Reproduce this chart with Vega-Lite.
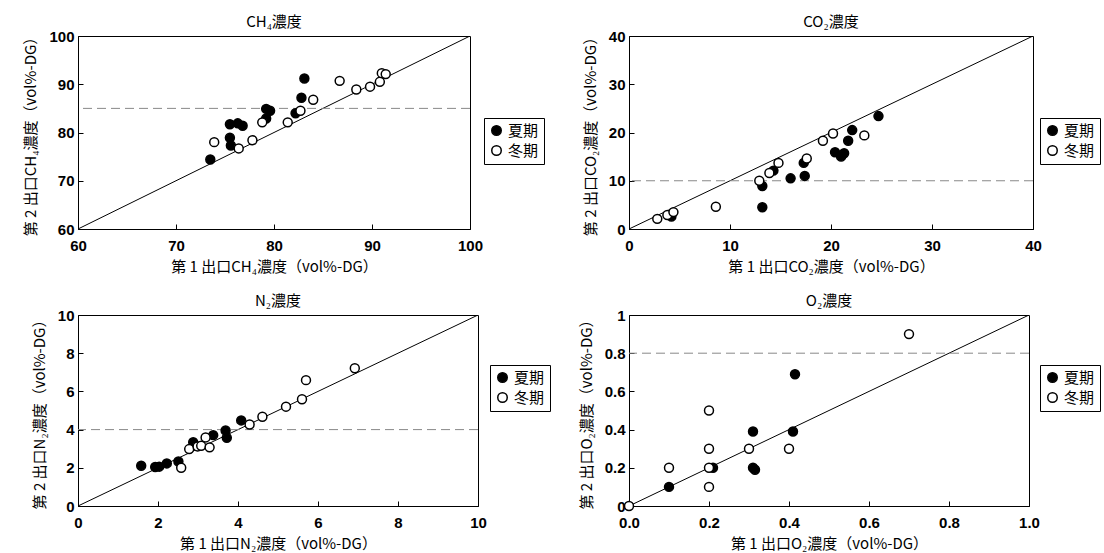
{
  "$schema": "https://vega.github.io/schema/vega-lite/v6.json",
  "background": "white",
  "padding": {"left": 23, "top": 14, "right": 2, "bottom": 0},
  "config": {
    "font": "Liberation Sans, Noto Sans CJK JP",
    "view": {"stroke": "black", "strokeWidth": 1},
    "axis": {
      "grid": false, "domainColor": "black", "tickColor": "black", "tickSize": -5, "tickCount": 11,
      "labelFont": "Liberation Sans", "labelFontSize": 15, "labelFontWeight": "bold", "labelColor": "black",
      "labelOverlap": false, "labelFlush": false,
      "titleFont": "Noto Sans CJK JP", "titleFontSize": 15, "titleFontWeight": "normal", "titleColor": "black"
    },
    "axisX": {"labelPadding": 14, "titlePadding": 6},
    "axisY": {"labelPadding": 9, "titlePadding": 10},
    "title": {"font": "Noto Sans CJK JP", "fontSize": 15, "fontWeight": "normal", "offset": 5, "dy": 6, "color": "black"},
    "legend": {
      "orient": "none", "strokeColor": "black", "padding": 5, "symbolType": "circle", "symbolSize": 90,
      "symbolStrokeColor": "black", "symbolStrokeWidth": 1.5, "labelFont": "Noto Sans CJK JP", "labelFontSize": 15,
      "labelColor": "black", "rowPadding": 3, "title": null
    }
  },
  "datasets": {
    "pts": [
      {"p": "CH4", "s": "夏期", "x": 73.5, "y": 74.4},
      {"p": "CH4", "s": "夏期", "x": 75.5, "y": 81.7},
      {"p": "CH4", "s": "夏期", "x": 76.3, "y": 81.9},
      {"p": "CH4", "s": "夏期", "x": 76.8, "y": 81.4},
      {"p": "CH4", "s": "夏期", "x": 75.5, "y": 78.9},
      {"p": "CH4", "s": "夏期", "x": 75.6, "y": 77.3},
      {"p": "CH4", "s": "夏期", "x": 79.2, "y": 84.9},
      {"p": "CH4", "s": "夏期", "x": 79.6, "y": 84.5},
      {"p": "CH4", "s": "夏期", "x": 79.2, "y": 82.9},
      {"p": "CH4", "s": "夏期", "x": 82.2, "y": 84.0},
      {"p": "CH4", "s": "夏期", "x": 82.8, "y": 87.2},
      {"p": "CH4", "s": "夏期", "x": 83.1, "y": 91.2},
      {"p": "CH4", "s": "冬期", "x": 73.9, "y": 78.0},
      {"p": "CH4", "s": "冬期", "x": 76.4, "y": 76.7},
      {"p": "CH4", "s": "冬期", "x": 77.8, "y": 78.4},
      {"p": "CH4", "s": "冬期", "x": 78.8, "y": 82.1},
      {"p": "CH4", "s": "冬期", "x": 81.4, "y": 82.1},
      {"p": "CH4", "s": "冬期", "x": 82.7, "y": 84.5},
      {"p": "CH4", "s": "冬期", "x": 84.0, "y": 86.8},
      {"p": "CH4", "s": "冬期", "x": 86.7, "y": 90.7},
      {"p": "CH4", "s": "冬期", "x": 88.4, "y": 88.9},
      {"p": "CH4", "s": "冬期", "x": 89.8, "y": 89.5},
      {"p": "CH4", "s": "冬期", "x": 90.8, "y": 90.5},
      {"p": "CH4", "s": "冬期", "x": 91.0, "y": 92.3},
      {"p": "CH4", "s": "冬期", "x": 91.4, "y": 92.1},
      {"p": "CO2", "s": "夏期", "x": 4.2, "y": 2.6},
      {"p": "CO2", "s": "夏期", "x": 13.2, "y": 4.5},
      {"p": "CO2", "s": "夏期", "x": 13.2, "y": 8.9},
      {"p": "CO2", "s": "夏期", "x": 14.3, "y": 12.1},
      {"p": "CO2", "s": "夏期", "x": 16.0, "y": 10.5},
      {"p": "CO2", "s": "夏期", "x": 17.3, "y": 13.7},
      {"p": "CO2", "s": "夏期", "x": 17.4, "y": 11.0},
      {"p": "CO2", "s": "夏期", "x": 20.4, "y": 15.9},
      {"p": "CO2", "s": "夏期", "x": 21.0, "y": 15.0},
      {"p": "CO2", "s": "夏期", "x": 21.3, "y": 15.7},
      {"p": "CO2", "s": "夏期", "x": 21.7, "y": 18.3},
      {"p": "CO2", "s": "夏期", "x": 22.1, "y": 20.5},
      {"p": "CO2", "s": "夏期", "x": 24.7, "y": 23.4},
      {"p": "CO2", "s": "冬期", "x": 2.8, "y": 2.1},
      {"p": "CO2", "s": "冬期", "x": 3.8, "y": 2.9},
      {"p": "CO2", "s": "冬期", "x": 4.4, "y": 3.5},
      {"p": "CO2", "s": "冬期", "x": 8.6, "y": 4.6},
      {"p": "CO2", "s": "冬期", "x": 12.9, "y": 10.0},
      {"p": "CO2", "s": "冬期", "x": 13.9, "y": 11.6},
      {"p": "CO2", "s": "冬期", "x": 14.8, "y": 13.7},
      {"p": "CO2", "s": "冬期", "x": 17.6, "y": 14.6},
      {"p": "CO2", "s": "冬期", "x": 19.2, "y": 18.3},
      {"p": "CO2", "s": "冬期", "x": 20.2, "y": 19.8},
      {"p": "CO2", "s": "冬期", "x": 23.3, "y": 19.4},
      {"p": "N2", "s": "夏期", "x": 1.58, "y": 2.11},
      {"p": "N2", "s": "夏期", "x": 1.93, "y": 2.04},
      {"p": "N2", "s": "夏期", "x": 2.03, "y": 2.06},
      {"p": "N2", "s": "夏期", "x": 2.22, "y": 2.23},
      {"p": "N2", "s": "夏期", "x": 2.51, "y": 2.33},
      {"p": "N2", "s": "夏期", "x": 2.88, "y": 3.34},
      {"p": "N2", "s": "夏期", "x": 3.38, "y": 3.71},
      {"p": "N2", "s": "夏期", "x": 3.69, "y": 3.95},
      {"p": "N2", "s": "夏期", "x": 3.72, "y": 3.57},
      {"p": "N2", "s": "夏期", "x": 4.08, "y": 4.48},
      {"p": "N2", "s": "冬期", "x": 2.58, "y": 2.0},
      {"p": "N2", "s": "冬期", "x": 2.78, "y": 2.98},
      {"p": "N2", "s": "冬期", "x": 2.99, "y": 3.12},
      {"p": "N2", "s": "冬期", "x": 3.08, "y": 3.15},
      {"p": "N2", "s": "冬期", "x": 3.19, "y": 3.59},
      {"p": "N2", "s": "冬期", "x": 3.29, "y": 3.07},
      {"p": "N2", "s": "冬期", "x": 4.29, "y": 4.27},
      {"p": "N2", "s": "冬期", "x": 4.61, "y": 4.67},
      {"p": "N2", "s": "冬期", "x": 5.2, "y": 5.2},
      {"p": "N2", "s": "冬期", "x": 5.6, "y": 5.59},
      {"p": "N2", "s": "冬期", "x": 5.7, "y": 6.59},
      {"p": "N2", "s": "冬期", "x": 6.92, "y": 7.21},
      {"p": "O2", "s": "夏期", "x": 0.1, "y": 0.1},
      {"p": "O2", "s": "夏期", "x": 0.21, "y": 0.2},
      {"p": "O2", "s": "夏期", "x": 0.31, "y": 0.39},
      {"p": "O2", "s": "夏期", "x": 0.31, "y": 0.2},
      {"p": "O2", "s": "夏期", "x": 0.315, "y": 0.19},
      {"p": "O2", "s": "夏期", "x": 0.41, "y": 0.39},
      {"p": "O2", "s": "夏期", "x": 0.415, "y": 0.69},
      {"p": "O2", "s": "冬期", "x": 0.0, "y": 0.0},
      {"p": "O2", "s": "冬期", "x": 0.1, "y": 0.2},
      {"p": "O2", "s": "冬期", "x": 0.2, "y": 0.5},
      {"p": "O2", "s": "冬期", "x": 0.2, "y": 0.3},
      {"p": "O2", "s": "冬期", "x": 0.2, "y": 0.2},
      {"p": "O2", "s": "冬期", "x": 0.2, "y": 0.1},
      {"p": "O2", "s": "冬期", "x": 0.3, "y": 0.3},
      {"p": "O2", "s": "冬期", "x": 0.4, "y": 0.3},
      {"p": "O2", "s": "冬期", "x": 0.7, "y": 0.9}
    ]
  },
  "columns": 2,
  "align": "each",
  "spacing": {"row": 18, "column": 27},
  "resolve": {"scale": {"fill": "independent"}, "legend": {"fill": "independent"}},
  "concat": [
    {
      "width": 392, "height": 193,
      "title": "CH₄濃度",
      "layer": [
        {
          "data": {"values": [{"v": 60}, {"v": 100}]},
          "mark": {"type": "line", "color": "black", "strokeWidth": 1, "clip": true},
          "encoding": {
            "x": {"field": "v", "type": "quantitative", "scale": {"domain": [60, 100], "nice": false, "zero": false}, "axis": {"values": [60, 70, 80, 90, 100], "tickCount": 11, "labelOverlap": false, "title": "第 1 出口CH₄濃度（vol%-DG）"}},
            "y": {"field": "v", "type": "quantitative", "scale": {"domain": [60, 100], "nice": false, "zero": false}, "axis": {"values": [60, 70, 80, 90, 100], "tickCount": 11, "labelOverlap": false, "title": "第 2 出口CH₄濃度（vol%-DG）"}}
          }
        },
        {
          "data": {"values": [{"h": 85}]},
          "mark": {"type": "rule", "color": "#888888", "strokeWidth": 1, "strokeDash": [9, 5]},
          "encoding": {"y": {"field": "h", "type": "quantitative"}}
        },
        {
          "data": {"name": "pts"},
          "transform": [{"filter": "datum.p === 'CH4'"}],
          "mark": {"type": "circle", "size": 80, "stroke": "black", "strokeWidth": 1.5, "opacity": 1},
          "encoding": {
            "x": {"field": "x", "type": "quantitative"},
            "y": {"field": "y", "type": "quantitative"},
            "fill": {"field": "s", "type": "nominal", "scale": {"domain": ["夏期", "冬期"], "range": ["black", "white"]}, "legend": {"legendX": 406, "legendY": 82}}
          }
        }
      ]
    },
    {
      "width": 404, "height": 193,
      "title": "CO₂濃度",
      "layer": [
        {
          "data": {"values": [{"v": 0}, {"v": 40}]},
          "mark": {"type": "line", "color": "black", "strokeWidth": 1, "clip": true},
          "encoding": {
            "x": {"field": "v", "type": "quantitative", "scale": {"domain": [0, 40], "nice": false}, "axis": {"values": [0, 10, 20, 30, 40], "tickCount": 11, "labelOverlap": false, "title": "第 1 出口CO₂濃度（vol%-DG）"}},
            "y": {"field": "v", "type": "quantitative", "scale": {"domain": [0, 40], "nice": false}, "axis": {"values": [0, 10, 20, 30, 40], "tickCount": 11, "labelOverlap": false, "title": "第 2 出口CO₂濃度（vol%-DG）"}}
          }
        },
        {
          "data": {"values": [{"h": 10}]},
          "mark": {"type": "rule", "color": "#888888", "strokeWidth": 1, "strokeDash": [9, 5]},
          "encoding": {"y": {"field": "h", "type": "quantitative"}}
        },
        {
          "data": {"name": "pts"},
          "transform": [{"filter": "datum.p === 'CO2'"}],
          "mark": {"type": "circle", "size": 80, "stroke": "black", "strokeWidth": 1.5, "opacity": 1},
          "encoding": {
            "x": {"field": "x", "type": "quantitative"},
            "y": {"field": "y", "type": "quantitative"},
            "fill": {"field": "s", "type": "nominal", "scale": {"domain": ["夏期", "冬期"], "range": ["black", "white"]}, "legend": {"legendX": 411, "legendY": 82}}
          }
        }
      ]
    },
    {
      "width": 400, "height": 191,
      "title": "N₂濃度",
      "layer": [
        {
          "data": {"values": [{"v": 0}, {"v": 10}]},
          "mark": {"type": "line", "color": "black", "strokeWidth": 1, "clip": true},
          "encoding": {
            "x": {"field": "v", "type": "quantitative", "scale": {"domain": [0, 10], "nice": false}, "axis": {"values": [0, 2, 4, 6, 8, 10], "tickCount": 11, "labelOverlap": false, "title": "第 1 出口N₂濃度（vol%-DG）"}},
            "y": {"field": "v", "type": "quantitative", "scale": {"domain": [0, 10], "nice": false}, "axis": {"values": [0, 2, 4, 6, 8, 10], "tickCount": 11, "labelOverlap": false, "title": "第 2 出口N₂濃度（vol%-DG）"}}
          }
        },
        {
          "data": {"values": [{"h": 4}]},
          "mark": {"type": "rule", "color": "#888888", "strokeWidth": 1, "strokeDash": [9, 5]},
          "encoding": {"y": {"field": "h", "type": "quantitative"}}
        },
        {
          "data": {"name": "pts"},
          "transform": [{"filter": "datum.p === 'N2'"}],
          "mark": {"type": "circle", "size": 80, "stroke": "black", "strokeWidth": 1.5, "opacity": 1},
          "encoding": {
            "x": {"field": "x", "type": "quantitative"},
            "y": {"field": "y", "type": "quantitative"},
            "fill": {"field": "s", "type": "nominal", "scale": {"domain": ["夏期", "冬期"], "range": ["black", "white"]}, "legend": {"legendX": 412, "legendY": 50}}
          }
        }
      ]
    },
    {
      "width": 400, "height": 191,
      "title": "O₂濃度",
      "layer": [
        {
          "data": {"values": [{"v": 0}, {"v": 1}]},
          "mark": {"type": "line", "color": "black", "strokeWidth": 1, "clip": true},
          "encoding": {
            "x": {"field": "v", "type": "quantitative", "scale": {"domain": [0, 1], "nice": false}, "axis": {"values": [0, 0.2, 0.4, 0.6, 0.8, 1], "tickCount": 11, "labelOverlap": false, "format": ".1f", "title": "第 1 出口O₂濃度（vol%-DG）"}},
            "y": {"field": "v", "type": "quantitative", "scale": {"domain": [0, 1], "nice": false}, "axis": {"values": [0, 0.2, 0.4, 0.6, 0.8, 1], "tickCount": 11, "labelOverlap": false, "format": "~g", "title": "第 2 出口O₂濃度（vol%-DG）"}}
          }
        },
        {
          "data": {"values": [{"h": 0.8}]},
          "mark": {"type": "rule", "color": "#888888", "strokeWidth": 1, "strokeDash": [9, 5]},
          "encoding": {"y": {"field": "h", "type": "quantitative"}}
        },
        {
          "data": {"name": "pts"},
          "transform": [{"filter": "datum.p === 'O2'"}],
          "mark": {"type": "circle", "size": 80, "stroke": "black", "strokeWidth": 1.5, "opacity": 1, "clip": false},
          "encoding": {
            "x": {"field": "x", "type": "quantitative"},
            "y": {"field": "y", "type": "quantitative"},
            "fill": {"field": "s", "type": "nominal", "scale": {"domain": ["夏期", "冬期"], "range": ["black", "white"]}, "legend": {"legendX": 411, "legendY": 50}}
          }
        }
      ]
    }
  ]
}
